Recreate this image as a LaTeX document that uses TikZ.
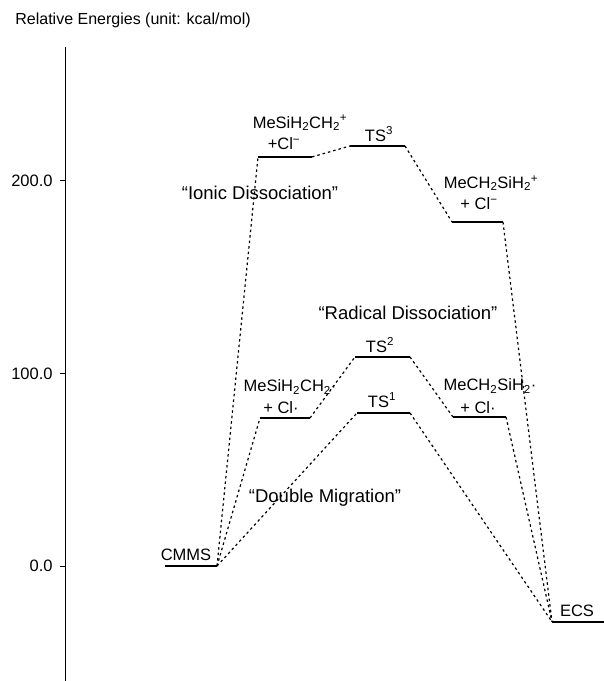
\documentclass[tikz,border=0pt]{standalone}
\usepackage{fontspec}
\setmainfont{Liberation Sans}
\usetikzlibrary{positioning}

\begin{document}
\begin{tikzpicture}[x=1pt, y=1.925pt, thick,
		level/.style={line width=2.2pt},
		link/.style={line width=1.2pt, dash pattern=on 2.5pt off 3pt},
		lbl/.style={font=\fontsize{16.5}{18}\selectfont, inner sep=0pt},
		path name/.style={font=\fontsize{18.5}{20}\selectfont, inner sep=0pt}]
	\useasboundingbox (0,-59.74) rectangle (604,294.03);
	\node[lbl, anchor=west, font=\fontsize{16}{18}\selectfont] (title) at (15,283.6) {Relative Energies (unit: kcal/mol)};

	% energy axis
	\draw[line width=1pt] (65,-59.74) coordinate (ybot) -- (65,269.6) coordinate (ytop);
	\foreach \v in {0,100,200}{
		\draw[line width=1pt] (60,\v) -- (65,\v);
		\node[lbl, anchor=east] (tick\v) at (53,\v) {\v.0};
	}

	% levels
	\draw[level] (165,0) coordinate (cmms-l) -- (217,0) coordinate (cmms-r);
	\draw[level] (552,-29) coordinate (ecs-l) -- (604,-29) coordinate (ecs-r);
	\draw[level] (258,212.5) coordinate (ion1-l) -- (312,212.5) coordinate (ion1-r);
	\draw[level] (350,218.2) coordinate (ts3-l) -- (405,218.2) coordinate (ts3-r);
	\draw[level] (452,178.7) coordinate (ion2-l) -- (503,178.7) coordinate (ion2-r);
	\draw[level] (355,108.6) coordinate (ts2-l) -- (410,108.6) coordinate (ts2-r);
	\draw[level] (357,79.5) coordinate (ts1-l) -- (410,79.5) coordinate (ts1-r);
	\draw[level] (260,76.9) coordinate (rad1-l) -- (310,76.9) coordinate (rad1-r);
	\draw[level] (453,77.4) coordinate (rad2-l) -- (506,77.4) coordinate (rad2-r);

	% ionic dissociation
	\draw[link] (cmms-r) -- (ion1-l);
	\draw[link] (ion1-r) -- (ts3-l);
	\draw[link] (ts3-r) -- (ion2-l);
	\draw[link] (ion2-r) -- (ecs-l);
	% radical dissociation
	\draw[link] (cmms-r) -- (rad1-l);
	\draw[link] (rad1-r) -- (ts2-l);
	\draw[link] (ts2-r) -- (rad2-l);
	\draw[link] (rad2-r) -- (ecs-l);
	% double migration
	\draw[link] (cmms-r) -- (ts1-l);
	\draw[link] (ts1-r) -- (ecs-l);

	% labels
	\node[lbl] (cmms) at (186,5.7) {CMMS};
	\node[lbl] (ecs) at (577,-23.4) {ECS};
	\node[lbl] (ion1a) at (300,230.1) {MeSiH\textsubscript{2}CH\textsubscript{2}\textsuperscript{+}};
	\node[lbl] (ion1b) at (284,219.3) {+Cl\textsuperscript{−}};
	\node[lbl] (ts3) at (379,224.4) {TS\textsuperscript{3}};
	\node[lbl] (ion2a) at (491,198.9) {MeCH\textsubscript{2}SiH\textsubscript{2}\textsuperscript{+}};
	\node[lbl] (ion2b) at (479,188.1) {+ Cl\textsuperscript{−}};
	\node[lbl] (ts2) at (380,114.8) {TS\textsuperscript{2}};
	\node[lbl] (ts1) at (382,86.2) {TS\textsuperscript{1}};
	\node[lbl] (rad1a) at (290,93.0) {MeSiH\textsubscript{2}CH\textsubscript{2}·};
	\node[lbl] (rad1b) at (281,82.1) {+ Cl·};
	\node[lbl] (rad2a) at (490,93.5) {MeCH\textsubscript{2}SiH\textsubscript{2}·};
	\node[lbl] (rad2b) at (478,82.1) {+ Cl·};

	\node[path name] (ionic) at (260,193.8) {``Ionic Dissociation''};
	\node[path name] (radical) at (408,131.4) {``Radical Dissociation''};
	\node[path name] (double) at (325,35.3) {``Double Migration''};
\end{tikzpicture}
\end{document}
